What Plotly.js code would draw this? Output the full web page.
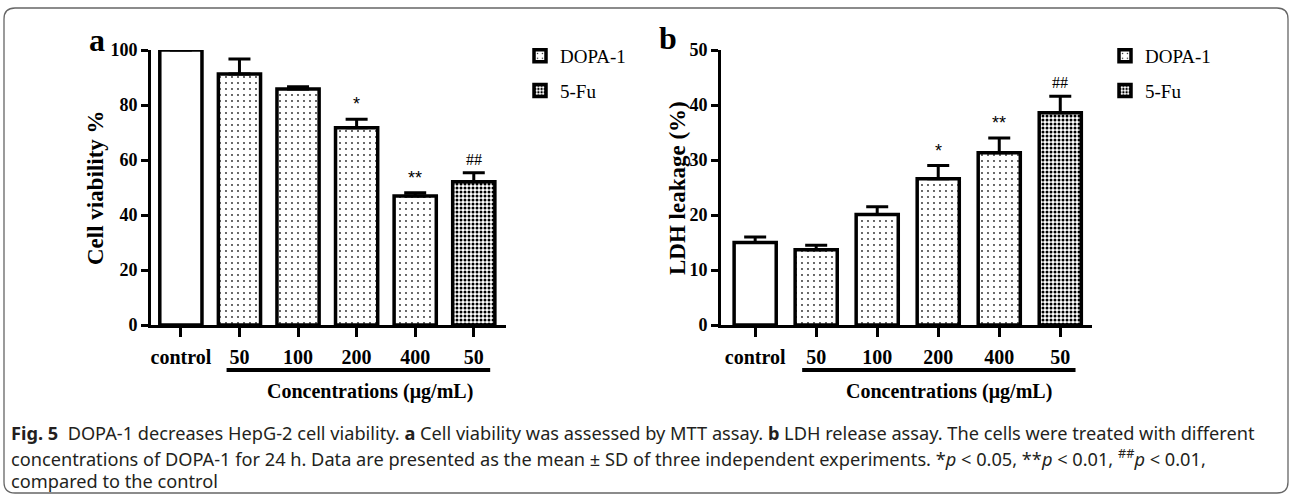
<!DOCTYPE html>
<html>
<head>
<meta charset="utf-8">
<script src="https://cdn.plot.ly/plotly-3.0.1.min.js"></script>
<style>
  html, body { margin: 0; padding: 0; background: #ffffff; }
  #chart { width: 1290px; height: 495px; }
</style>
</head>
<body>
<div id="chart"></div>
<script>
// ---------------- data ----------------
const categories = ['control', '50', '100', '200', '400', '50'];
const groups = ['control', 'DOPA-1', 'DOPA-1', 'DOPA-1', 'DOPA-1', '5-Fu'];
const viabilityMean = [100, 91.3, 85.8, 71.7, 46.9, 52.1];
const viabilitySD   = [0, 5.4, 0.8, 3.1, 1.2, 3.3];
const ldhMean = [15.0, 13.7, 20.1, 26.6, 31.3, 38.6];
const ldhSD   = [1.0, 0.8, 1.4, 2.4, 2.7, 3.0];
const sigViability = ['', '', '', '*', '**', '##'];
const sigLdh       = ['', '', '', '*', '**', '##'];
const yTitleA = 'Cell viability %';
const yTitleB = 'LDH leakage (%)';
const xTitle = 'Concentrations (μg/mL)';
const captionLines = [
  '<b>Fig. 5</b>  DOPA-1 decreases HepG-2 cell viability. <b>a</b> Cell viability was assessed by MTT assay. <b>b</b> LDH release assay. The cells were treated with different',
  'concentrations of DOPA-1 for 24 h. Data are presented as the mean ± SD of three independent experiments. *<i>p</i> < 0.05, **<i>p</i> < 0.01, <sup>##</sup><i>p</i> < 0.01,',
  'compared to the control'
];

// ---------------- helpers ----------------
const W = 1290, H = 495;
const px = x => x / W;
const py = y => 1 - y / H;
const serif = 'Liberation Serif, Times New Roman, serif';
const idx = categories.map((c, i) => i);

const styles = {
  'control': { color: '#ffffff', pattern: { shape: '' } },
  'DOPA-1':  { color: '#ffffff', pattern: { shape: '.', fgcolor: '#222', bgcolor: '#ffffff', size: 6, solidity: 0.07 } },
  '5-Fu':    { color: '#ffffff', pattern: { shape: '.', fgcolor: '#000', bgcolor: '#ffffff', size: 4, solidity: 0.45 } }
};

function makeTraces(mean, sd, xa, ya, legendName, width) {
  const names = ['control', 'DOPA-1', '5-Fu'];
  return names.map(name => {
    const ii = idx.filter(i => groups[i] === name);
    return {
      type: 'bar',
      name: name,
      x: ii.map(i => idx[i]),
      y: ii.map(i => mean[i]),
      width: ii.map(() => width),
      xaxis: xa, yaxis: ya,
      legend: legendName,
      legendgroup: legendName + name,
      showlegend: name !== 'control',
      marker: {
        color: styles[name].color,
        pattern: styles[name].pattern,
        line: { color: '#000', width: 3.5 }
      },
      error_y: {
        type: 'data', symmetric: false,
        array: ii.map(i => sd[i]),
        arrayminus: ii.map(() => 0),
        color: '#000', thickness: 3, width: 11,
        visible: true
      },
      hoverinfo: 'skip'
    };
  });
}

const traces = [
  ...makeTraces(viabilityMean, viabilitySD, 'x', 'y', 'legend', 0.72),
  ...makeTraces(ldhMean, ldhSD, 'x2', 'y2', 'legend2', 0.69)
];

const tickFontX = { family: serif, size: 20, color: '#000', weight: 'bold' };
const tickFontY = { family: serif, size: 18, color: '#000', weight: 'bold' };

function xAxis(domain, range, anchor) {
  return {
    domain: domain, range: range, anchor: anchor,
    tickmode: 'array', tickvals: idx, ticktext: categories,
    ticks: 'outside', ticklen: 9, tickwidth: 3, tickcolor: '#000',
    showline: true, linewidth: 3, linecolor: '#000',
    showgrid: false, zeroline: false, tickfont: tickFontX,
    ticklabelstandoff: 3, fixedrange: true
  };
}
function yAxis(domain, range, dtick, anchor) {
  return {
    domain: domain, range: range, anchor: anchor, dtick: dtick, tick0: 0,
    ticks: 'outside', ticklen: 7, tickwidth: 3, tickcolor: '#000',
    showline: true, linewidth: 3, linecolor: '#000',
    showgrid: false, zeroline: false, tickfont: tickFontY,
    fixedrange: true
  };
}

const yDomain = [py(325), py(50)];

const annotations = [];
// significance marks
function addSig(sig, mean, sd, xref, yref) {
  sig.forEach((s, i) => {
    if (!s) return;
    const hash = s.indexOf('#') >= 0;
    annotations.push({
      xref: xref, yref: yref, x: idx[i], y: mean[i] + sd[i],
      text: s, showarrow: false, yanchor: 'bottom', yshift: 3,
      font: { family: hash ? serif : 'Liberation Sans, Arial, sans-serif', size: hash ? 16 : 18, color: '#000' }
    });
  });
}
addSig(sigViability, viabilityMean, viabilitySD, 'x', 'y');
addSig(sigLdh, ldhMean, ldhSD, 'x2', 'y2');

// panel letters
annotations.push({ xref: 'paper', yref: 'paper', x: px(97), y: py(40), text: '<b>a</b>', showarrow: false, xanchor: 'center', yanchor: 'middle', font: { family: serif, size: 32, color: '#000' } });
annotations.push({ xref: 'paper', yref: 'paper', x: px(668), y: py(38), text: '<b>b</b>', showarrow: false, xanchor: 'center', yanchor: 'middle', font: { family: serif, size: 32, color: '#000' } });
// y titles
annotations.push({ xref: 'paper', yref: 'paper', x: px(95), y: py(188), text: '<b>' + yTitleA + '</b>', textangle: -90, showarrow: false, xanchor: 'center', yanchor: 'middle', font: { family: serif, size: 23, color: '#000' } });
annotations.push({ xref: 'paper', yref: 'paper', x: px(677), y: py(188), text: '<b>' + yTitleB + '</b>', textangle: -90, showarrow: false, xanchor: 'center', yanchor: 'middle', font: { family: serif, size: 23, color: '#000' } });
// x titles
annotations.push({ xref: 'paper', yref: 'paper', x: px(370), y: py(391), text: '<b>' + xTitle + '</b>', showarrow: false, xanchor: 'center', yanchor: 'middle', font: { family: serif, size: 20, color: '#000' } });
annotations.push({ xref: 'paper', yref: 'paper', x: px(949), y: py(391), text: '<b>' + xTitle + '</b>', showarrow: false, xanchor: 'center', yanchor: 'middle', font: { family: serif, size: 20, color: '#000' } });
// caption
const capY = [433, 457, 481];
captionLines.forEach((t, i) => {
  annotations.push({ xref: 'paper', yref: 'paper', x: px(9), y: py(capY[i]), text: t, showarrow: false, xanchor: 'left', yanchor: 'middle', align: 'left', font: { family: 'Noto Sans, sans-serif', size: 18.2, color: '#231f20' } });
});

// rounded frame
function roundRect(x0, y0, x1, y1, r) {
  const X = v => px(v), Y = v => py(v);
  return `M${X(x0 + r)},${Y(y0)} L${X(x1 - r)},${Y(y0)} Q${X(x1)},${Y(y0)} ${X(x1)},${Y(y0 + r)} ` +
         `L${X(x1)},${Y(y1 - r)} Q${X(x1)},${Y(y1)} ${X(x1 - r)},${Y(y1)} ` +
         `L${X(x0 + r)},${Y(y1)} Q${X(x0)},${Y(y1)} ${X(x0)},${Y(y1 - r)} ` +
         `L${X(x0)},${Y(y0 + r)} Q${X(x0)},${Y(y0)} ${X(x0 + r)},${Y(y0)} Z`;
}

const shapes = [
  { type: 'path', xref: 'paper', yref: 'paper', path: roundRect(4, 8, 1288, 493, 11), line: { color: '#666', width: 1.3 }, fillcolor: 'rgba(0,0,0,0)', layer: 'below' },
  // group underline below DOPA-1 / 5-Fu labels
  { type: 'line', xref: 'x', yref: 'paper', x0: 0.78, x1: 5.28, y0: py(370), y1: py(370), line: { color: '#000', width: 4 } },
  { type: 'line', xref: 'x2', yref: 'paper', x0: 0.77, x1: 5.25, y0: py(370), y1: py(370), line: { color: '#000', width: 4 } }
];

const legendBase = {
  font: { family: serif, size: 19, color: '#000' },
  bgcolor: 'rgba(0,0,0,0)', borderwidth: 0,
  xanchor: 'left', yanchor: 'top', tracegroupgap: 7, itemwidth: 30,
  traceorder: 'grouped'
};

const layout = {
  width: W, height: H,
  margin: { l: 0, r: 0, t: 0, b: 0 },
  paper_bgcolor: '#ffffff', plot_bgcolor: 'rgba(0,0,0,0)',
  barmode: 'overlay',
  showlegend: true,
  xaxis: xAxis([px(151), px(506)], [-0.51, 5.55], 'y'),
  yaxis: yAxis(yDomain, [0, 100], 20, 'x'),
  xaxis2: xAxis([px(721), px(1092)], [-0.56, 5.52], 'y2'),
  yaxis2: yAxis(yDomain, [0, 50], 10, 'x2'),
  legend: Object.assign({}, legendBase, { x: px(520), y: py(37) }),
  legend2: Object.assign({}, legendBase, { x: px(1105), y: py(37) }),
  annotations: annotations,
  shapes: shapes
};

Plotly.newPlot('chart', traces, layout, { displayModeBar: false, staticPlot: true });
</script>
</body>
</html>
